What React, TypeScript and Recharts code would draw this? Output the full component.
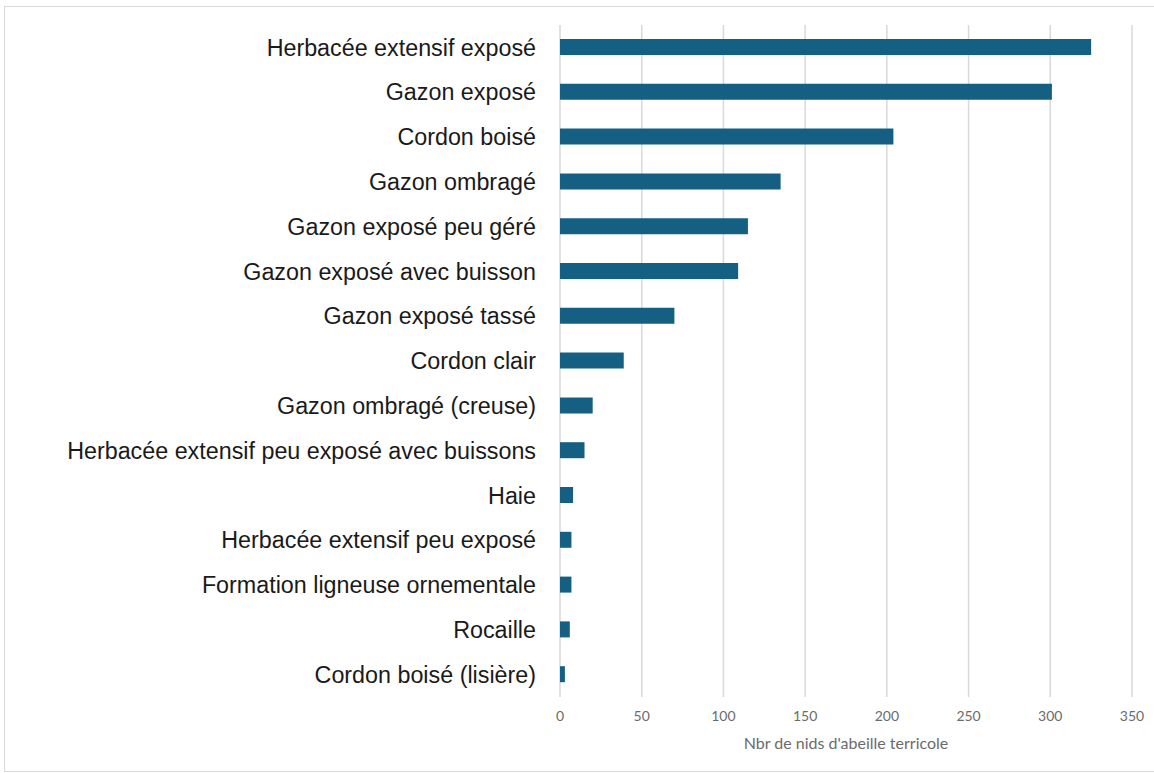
import { BarChart, Bar, XAxis, YAxis, CartesianGrid } from "recharts";

const habitats = [
  "Herbacée extensif exposé",
  "Gazon exposé",
  "Cordon boisé",
  "Gazon ombragé",
  "Gazon exposé peu géré",
  "Gazon exposé avec buisson",
  "Gazon exposé tassé",
  "Cordon clair",
  "Gazon ombragé (creuse)",
  "Herbacée extensif peu exposé avec buissons",
  "Haie",
  "Herbacée extensif peu exposé",
  "Formation ligneuse ornementale",
  "Rocaille",
  "Cordon boisé (lisière)",
];

const nestCounts = [325, 301, 204, 135, 115, 109, 70, 39, 20, 15, 8, 7, 7, 6, 3];

const xTicks = [0, 50, 100, 150, 200, 250, 300, 350];

const data = habitats.map((name, i) => ({ name, nids: nestCounts[i] }));

export default function App() {
  return (
    <div
      style={{
        position: "absolute",
        top: 0,
        left: 0,
        width: 1154,
        height: 773,
        background: "#fff",
        overflow: "hidden",
      }}
    >
      <div
        style={{
          position: "absolute",
          left: 4,
          top: 6,
          width: 1170,
          height: 764,
          border: "1px solid #d9d9d9",
        }}
      />
      <div style={{ position: "absolute", left: 0, top: 0 }}>
        <BarChart
          width={1154}
          height={773}
          data={data}
          layout="vertical"
          margin={{ top: 25, right: 22, bottom: 0, left: 0 }}
          barSize={16}
        >
          <CartesianGrid
            horizontal={false}
            stroke="#d9d9d9"
            strokeWidth={1.5}
          />
          <XAxis
            type="number"
            domain={[0, 350]}
            ticks={xTicks}
            axisLine={false}
            tickLine={false}
            tickSize={0}
            tickMargin={14}
            height={76}
            tick={{ fontSize: 14, fill: "#6b6b6b", fontFamily: "Lato" }}
            label={{
              value: "Nbr de nids d'abeille terricole",
              position: "insideBottom",
              offset: 24,
              fontSize: 16,
              fill: "#6b6b6b",
              fontFamily: "Lato",
            }}
          />
          <YAxis
            type="category"
            dataKey="name"
            width={560}
            axisLine={false}
            tickLine={false}
            tickSize={0}
            tickMargin={24}
            interval={0}
            tick={{
              fontSize: 23.3,
              fill: "#1a1a1a",
              fontFamily: "'Liberation Sans', Arial, sans-serif",
            }}
          />
          <Bar dataKey="nids" fill="#156082" isAnimationActive={false} />
        </BarChart>
      </div>
    </div>
  );
}
